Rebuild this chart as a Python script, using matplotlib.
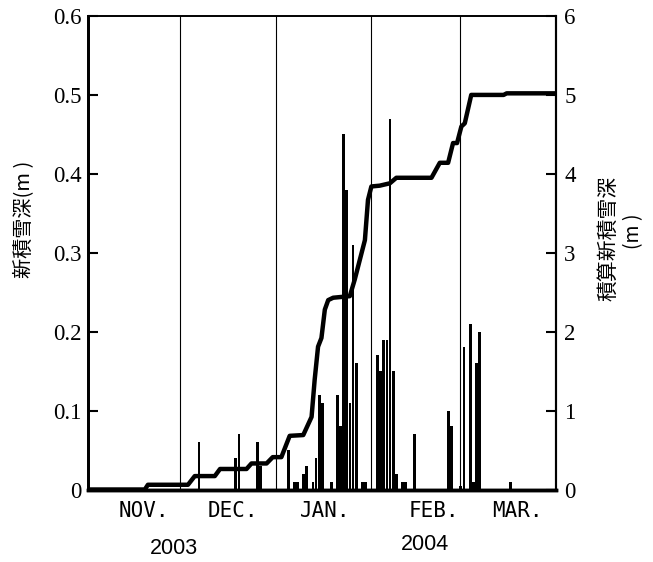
import matplotlib
matplotlib.use('Agg')
import matplotlib.pyplot as plt
import numpy as np

# day index counted from 1 Nov 2003 (day 0)
bar_days = [36, 48, 49, 55, 56,
            65, 67, 68, 70, 71, 73, 74, 75, 76, 79, 81, 82, 83, 84, 85, 86, 87, 89, 90,
            94, 95, 96, 97, 98, 99, 100, 102, 103, 106, 117, 118,
            121, 122, 124, 125, 126, 127, 137]
bar_values = [0.06, 0.04, 0.07, 0.06, 0.03,
              0.05, 0.01, 0.01, 0.02, 0.03, 0.01, 0.04, 0.12, 0.11, 0.01, 0.12, 0.08, 0.45, 0.38, 0.11, 0.31, 0.16, 0.01, 0.01,
              0.17, 0.15, 0.19, 0.19, 0.47, 0.15, 0.02, 0.01, 0.01, 0.07, 0.10, 0.08,
              0.004, 0.18, 0.21, 0.01, 0.16, 0.20, 0.01]

line_days = [0, 18.6, 19.6, 32.6, 34.8, 41.3, 43.0, 51.6, 53.2, 58.1, 60.1, 62.9, 65.6, 70.0,
             72.7, 73.7, 74.8, 75.9, 77.0, 78.1, 79.7, 85.1, 86.7, 90.0, 91.0, 92.1, 94.8,
             98.1, 100.2, 111.6, 114.3, 117.0, 118.6, 119.9, 121.3, 122.4, 124.5, 135.0, 136.0, 152]
line_values = [0, 0, 0.06, 0.06, 0.17, 0.17, 0.26, 0.26, 0.33, 0.33, 0.41, 0.41, 0.68, 0.69,
               0.92, 1.39, 1.81, 1.92, 2.28, 2.40, 2.43, 2.45, 2.66, 3.16, 3.67, 3.84, 3.85,
               3.88, 3.95, 3.95, 4.14, 4.14, 4.39, 4.39, 4.60, 4.64, 5.00, 5.00, 5.02, 5.02]

month_boundaries = [30, 61, 92, 121]
month_label_days = [18.3, 47.2, 77.0, 112.3, 139.5]
month_labels = ['NOV.', 'DEC.', 'JAN.', 'FEB.', 'MAR.']
left_ticks = [0, 0.1, 0.2, 0.3, 0.4, 0.5, 0.6]
left_tick_labels = ['0', '0.1', '0.2', '0.3', '0.4', '0.5', '0.6']
right_ticks = [0, 1, 2, 3, 4, 5, 6]
right_tick_labels = ['0', '1', '2', '3', '4', '5', '6']
years = ['2003', '2004']

W, H = 653, 562
fig = plt.figure(figsize=(W / 100, H / 100), dpi=100)
L, R, T, B = 87.5, 556, 16, 489.5
ax = fig.add_axes([L / W, 1 - B / H, (R - L) / W, (B - T) / H])

ax.bar(np.array(bar_days) + 0.15, bar_values, width=0.92, color='black', linewidth=0, zorder=2)
for b in month_boundaries:
    ax.axvline(b, color='black', lw=0.8, zorder=1)
ax.set_xlim(0, 152)
ax.set_ylim(0, 0.6)

serif = ['Liberation Serif', 'DejaVu Serif']
ax.set_yticks(left_ticks)
ax.set_yticklabels(left_tick_labels, fontfamily=serif, fontsize=16.5)
ax.tick_params(axis='y', direction='in', length=7, width=1.5, pad=4)
ax.set_xticks(month_label_days)
ax.set_xticklabels(month_labels, fontfamily='DejaVu Sans Mono', fontsize=15)
ax.tick_params(axis='x', length=0, pad=8)

ax2 = ax.twinx()
ax2.plot(line_days, line_values, color='black', lw=3.2, zorder=3, solid_capstyle='butt')
ax2.set_ylim(0, 6)
ax2.set_xlim(0, 152)
ax2.set_yticks(right_ticks)
ax2.set_yticklabels(right_tick_labels, fontfamily=serif, fontsize=16.5)
ax2.tick_params(axis='y', direction='in', length=7, width=1.5, pad=6)

for a in (ax, ax2):
    a.spines['left'].set_linewidth(2.0)
    a.spines['bottom'].set_linewidth(2.5)
    a.spines['top'].set_linewidth(1.2)
    a.spines['right'].set_linewidth(1.5)

cjk = ['Noto Sans CJK JP', 'DejaVu Sans']
fig.text(24 / W, 1 - 219 / H, '新積雪深(m )', rotation=90, ha='center', va='center',
         fontsize=14.5, fontfamily=cjk)
fig.text(608 / W, 1 - 238 / H, '積算新積雪深', rotation=90, ha='center', va='center',
         fontsize=15, fontfamily=cjk)
fig.text(634 / W, 1 - 231 / H, '(m )', rotation=90, ha='center', va='center',
         fontsize=14, fontfamily=cjk)

sans = ['Liberation Sans', 'DejaVu Sans']
fig.text(174 / W, 1 - 549 / H, years[0], ha='center', va='center', fontsize=15.5, fontfamily=sans)
fig.text(425 / W, 1 - 544 / H, years[1], ha='center', va='center', fontsize=15.5, fontfamily=sans)

fig.savefig('out.png', dpi=100)
